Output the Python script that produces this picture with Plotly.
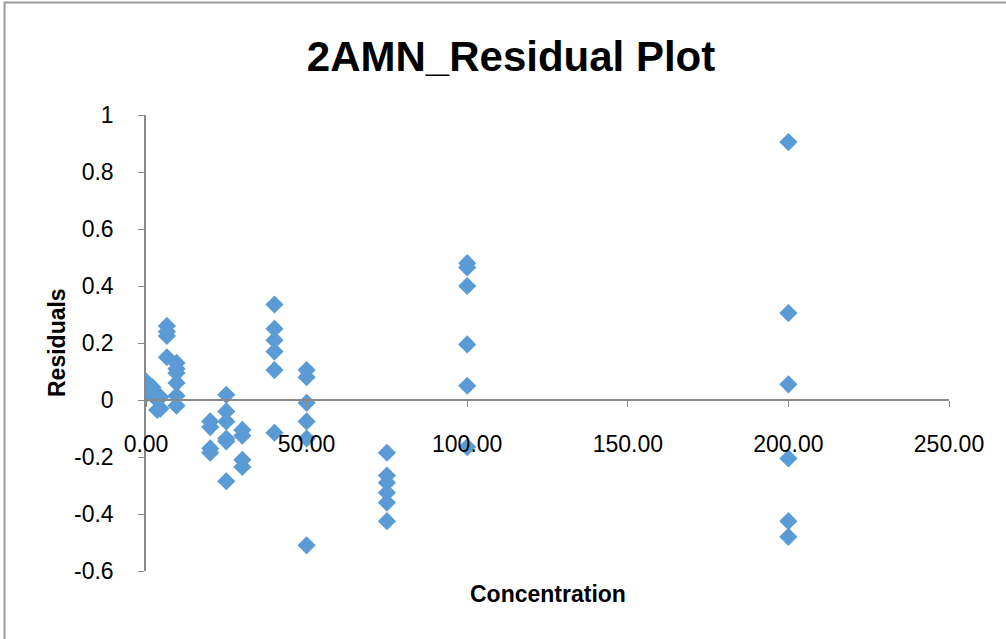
import plotly.graph_objects as go

# Residuals of the 2AMN calibration, grouped by concentration level
concentration = [
    0, 0, 0,
    2, 2,
    3.5, 3.5,
    4.5, 4.5,
    6.5, 6.5, 6.5, 6.5,
    9.5, 9.5, 9.5, 9.5, 9.5, 9.5,
    20, 20, 20, 20,
    25, 25, 25, 25, 25, 25,
    30, 30, 30, 30,
    40, 40, 40, 40, 40, 40,
    50, 50, 50, 50, 50, 50,
    75, 75, 75, 75, 75, 75,
    100, 100, 100, 100, 100, 100,
    200, 200, 200, 200, 200, 200,
]
residuals = [
    0.05, 0.065, 0.02,
    0.045, 0.03,
    0.0, -0.035,
    0.01, -0.03,
    0.26, 0.24, 0.225, 0.15,
    0.13, 0.11, 0.095, 0.06, 0.015, -0.02,
    -0.075, -0.095, -0.17, -0.185,
    0.018, -0.04, -0.075, -0.135, -0.145, -0.285,
    -0.105, -0.125, -0.21, -0.235,
    0.335, 0.25, 0.21, 0.17, 0.105, -0.115,
    0.105, 0.08, -0.01, -0.075, -0.135, -0.51,
    -0.185, -0.265, -0.29, -0.325, -0.36, -0.425,
    0.48, 0.465, 0.40, 0.195, 0.05, -0.165,
    0.905, 0.305, 0.055, -0.205, -0.425, -0.48,
]

x_ticks = [0, 50, 100, 150, 200, 250]
x_tick_text = ["0.00", "50.00", "100.00", "150.00", "200.00", "250.00"]
y_ticks = [-0.6, -0.4, -0.2, 0, 0.2, 0.4, 0.6, 0.8, 1]
y_tick_text = ["-0.6", "-0.4", "-0.2", "0", "0.2", "0.4", "0.6", "0.8", "1"]

FONT = "Liberation Sans"
AXIS_COLOR = "#898989"

fig = go.Figure(
    go.Scatter(
        x=concentration,
        y=residuals,
        mode="markers",
        marker=dict(symbol="diamond", size=14, color="#5B9BD5", line=dict(width=0)),
        showlegend=False,
        hoverinfo="x+y",
    )
)

# y = 0 sits at this fraction of the plot height
zero_pos = (0 - (-0.6)) / (1 - (-0.6))

fig.update_layout(
    width=1006,
    height=639,
    margin=dict(l=146, r=57, t=115, b=68),
    paper_bgcolor="white",
    plot_bgcolor="white",
    font=dict(family=FONT, color="black"),
    title=dict(
        text="<b>2AMN_Residual Plot</b>",
        x=0.508,
        xanchor="center",
        y=1 - 56 / 639,
        yanchor="middle",
        yref="container",
        font=dict(family=FONT, size=42, color="black"),
    ),
    xaxis=dict(
        range=[0, 250],
        tickvals=x_ticks,
        ticktext=x_tick_text,
        showgrid=False,
        zeroline=False,
        showline=True,
        linecolor=AXIS_COLOR,
        linewidth=1.5,
        ticks="outside",
        ticklen=6,
        tickcolor=AXIS_COLOR,
        tickfont=dict(family=FONT, size=23, color="black"),
        ticklabelstandoff=18,
        anchor="free",
        position=zero_pos,
    ),
    yaxis=dict(
        range=[-0.6, 1],
        tickvals=y_ticks,
        ticktext=y_tick_text,
        showgrid=False,
        zeroline=False,
        showline=True,
        linecolor=AXIS_COLOR,
        linewidth=1.5,
        ticks="outside",
        ticklen=6,
        tickcolor=AXIS_COLOR,
        tickfont=dict(family=FONT, size=23, color="black"),
        ticklabelstandoff=20,
    ),
    annotations=[
        dict(
            text="<b>Concentration</b>",
            xref="paper", yref="paper",
            x=0.5, y=(571 - 594) / 456,
            xanchor="center", yanchor="middle",
            showarrow=False,
            font=dict(family=FONT, size=23, color="black"),
        ),
        dict(
            text="<b>Residuals</b>",
            xref="paper", yref="paper",
            x=(57 - 146) / 803, y=0.5,
            xanchor="center", yanchor="middle",
            textangle=-90,
            showarrow=False,
            font=dict(family=FONT, size=23, color="black"),
        ),
    ],
    shapes=[
        dict(
            type="rect",
            xref="paper", yref="paper",
            x0=(4.5 - 146) / 803, x1=(1012 - 146) / 803,
            y0=(571 - 650) / 456, y1=(571 - 2.5) / 456,
            line=dict(color="#9a9a9a", width=2),
            fillcolor="rgba(0,0,0,0)",
            layer="below",
        )
    ],
)

fig.write_html("out.html")
